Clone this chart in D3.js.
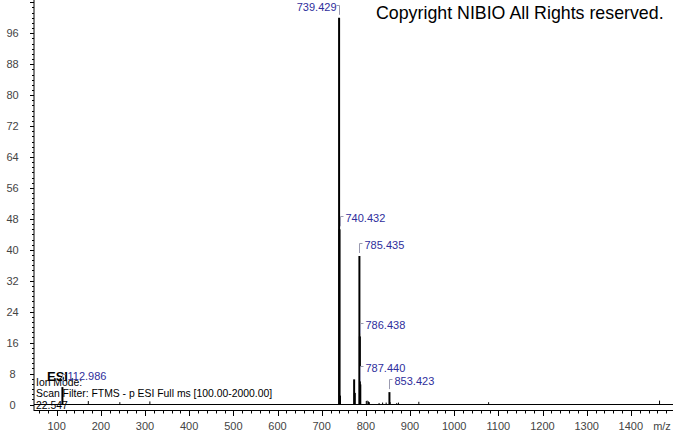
<!DOCTYPE html>
<html><head><meta charset="utf-8">
<script src="https://cdn.jsdelivr.net/npm/d3@7"></script>
<style>body{margin:0;background:#fff}svg{display:block}text{font-family:"Liberation Sans",Arial,sans-serif}</style>
</head><body><svg id="c" width="673" height="433"></svg>
<script>
// Peaks: m/z and relative abundance (%)
const mz        = [112.986, 171.6, 243.0, 311.0, 739.429, 740.432, 741.435, 773.5, 775.0, 785.435, 786.438, 787.440, 801.0, 803.0, 806.0, 808.0, 830.0, 838.0, 846.0, 853.423, 855.0, 870.0, 874.0, 920.0, 1078.0, 1465.0];
const intensity = [4.5,     0.9,   0.6,   0.8,   100,     45.3,    2.3,     6.5,   3.0,   38.4,    17.6,    5.2,     0.9,   1.0,   0.8,   0.6,   0.4,   0.5,   0.5,   3.2,     0.6,   0.4,   0.5,   0.7,   0.6,    1.0];
const labelledMz = [112.986, 739.429, 740.432, 785.435, 786.438, 787.440, 853.423];
const xTicks = [100,200,300,400,500,600,700,800,900,1000,1100,1200,1300,1400];
const yTicks = [0,8,16,24,32,40,48,56,64,72,80,88,96];
const copyright = "Copyright NIBIO All Rights reserved.";
const infoLines = ["Ion Mode:", "Scan Filter: FTMS - p ESI Full ms [100.00-2000.00]", "22.547"];
const ionLabel = "ESI";

const svg = d3.select("#c");
const x = d3.scaleLinear().domain([50,1500]).range([34.6,675]);
const y = d3.scaleLinear().domain([0,104.6]).range([404.5,0]);

// Y axis
svg.append("line").attr("x1",34).attr("x2",34).attr("y1",0).attr("y2",411).attr("stroke","#000");
const yMinor = d3.range(0,104.6,8/6);
svg.append("g").selectAll("line").data(yMinor).join("line")
  .attr("x1",34).attr("x2",d=>Math.abs(d/8-Math.round(d/8))<1e-6?30:32)
  .attr("y1",d=>Math.round(y(d))+0.5).attr("y2",d=>Math.round(y(d))+0.5).attr("stroke","#000");
svg.append("g").selectAll("text").data(yTicks).join("text")
  .attr("x",12.5).attr("y",d=>y(d)+4).attr("text-anchor","middle")
  .attr("font-size",11).attr("fill","#444").text(d=>d);

// X axis
const axY = 410;
svg.append("line").attr("x1",34).attr("x2",673).attr("y1",axY+0.5).attr("y2",axY+0.5).attr("stroke","#000");
const xMinor = d3.range(60,1500,20);
svg.append("g").selectAll("line").data(xMinor).join("line")
  .attr("x1",d=>Math.round(x(d))+0.5).attr("x2",d=>Math.round(x(d))+0.5)
  .attr("y1",axY).attr("y2",d=>d%100===0?axY+6:axY+3.5).attr("stroke","#000");
svg.append("g").selectAll("text").data(xTicks).join("text")
  .attr("x",d=>x(d)).attr("y",430).attr("text-anchor","middle")
  .attr("font-size",11).attr("fill","#444").text(d=>d);
svg.append("text").attr("x",662).attr("y",430).attr("text-anchor","middle")
  .attr("font-size",11).attr("fill","#444").text("m/z");

// Baseline of spectrum
svg.append("line").attr("x1",34).attr("x2",673).attr("y1",y(0)).attr("y2",y(0)).attr("stroke","#000");

// Peaks
const peaks = mz.map((m,i)=>({m, v:intensity[i]}));
svg.append("g").selectAll("line").data(peaks).join("line")
  .attr("x1",d=>x(d.m)).attr("x2",d=>x(d.m)).attr("y1",y(0)).attr("y2",d=>y(d.v))
  .attr("stroke","#000").attr("stroke-width",d=>d.v>2?2:1);

// Info texts
svg.append("text").attr("x",47).attr("y",381).attr("font-size",13).attr("font-weight","bold").text(ionLabel);
svg.append("text").attr("x",36).attr("y",385.5).attr("font-size",10.4).attr("fill","#000").text(infoLines[0]);
svg.append("text").attr("x",36).attr("y",397).attr("font-size",10.4).attr("fill","#000").text(infoLines[1]);
svg.append("text").attr("x",36).attr("y",409).attr("font-size",10.4).attr("fill","#000").text(infoLines[2]);

// Peak labels with simple collision avoidance (lowest peaks placed first)
const maxV = d3.max(intensity);
const labs = labelledMz.map(m=>({m, v:intensity[mz.indexOf(m)]})).sort((a,b)=>a.v-b.v);
const placed = [];
const lw = 42, lh = 12;
labs.forEach(L=>{
  const px = x(L.m);
  L.left = L.v===maxV;
  L.cy = y(L.v) - 11;
  const bx0 = L.left ? px-4-lw : px+4, bx1 = bx0+lw;
  let moved = true;
  while(moved){
    moved=false;
    for(const P of placed){
      if(bx0<P.x1 && bx1>P.x0 && L.cy-lh/2<P.y1 && L.cy+lh/2>P.y0){
        L.cy = P.y0 - lh/2 - 1; moved=true;
      }
    }
  }
  placed.push({x0:bx0,x1:bx1,y0:L.cy-lh/2,y1:L.cy+lh/2});
  L.px = px;
});
const lg = svg.append("g");
labs.forEach(L=>{
  const top = Math.round(L.cy)-1.5, bot = y(L.v)-3;
  const bxx = Math.round(L.px)+0.5;
  const hx = L.left ? bxx-3 : bxx+3;
  lg.append("path").attr("d",`M${hx},${top}H${bxx}V${Math.max(bot,top+5)}`)
    .attr("fill","none").attr("stroke","#9a9ab0").attr("stroke-width",1);
  lg.append("text").attr("x",L.left?bxx-3:bxx+5).attr("y",L.cy+4)
    .attr("text-anchor",L.left?"end":"start").attr("font-size",11).attr("fill","#2e2e9c")
    .text(L.m.toFixed(3));
});

// Copyright
svg.append("text").attr("x",376).attr("y",19).attr("font-size",17.8).attr("fill","#000").text(copyright);
</script></body></html>
